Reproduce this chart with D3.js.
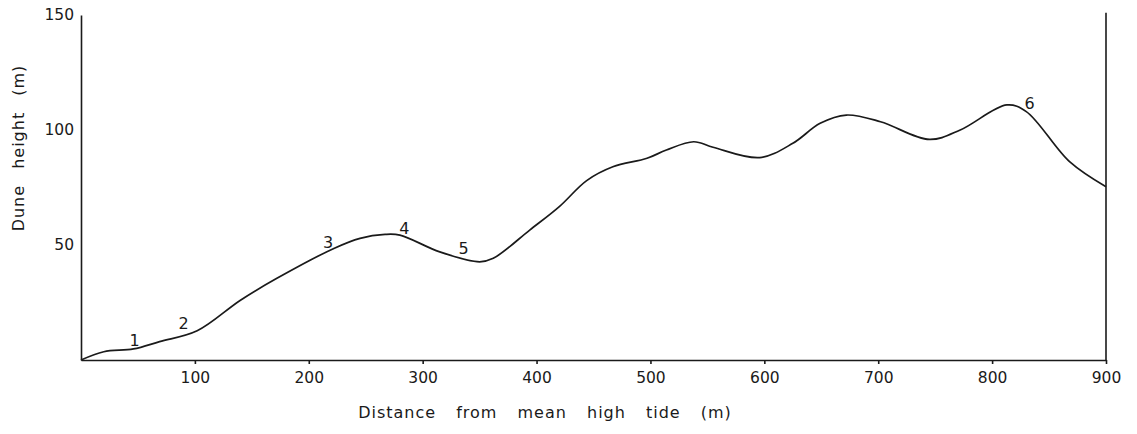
<!DOCTYPE html>
<html>
<head>
<meta charset="utf-8">
<script src="https://cdn.jsdelivr.net/npm/d3@7"></script>
<style>
  body { margin: 0; background: #fff; }
  text { font-family: "DejaVu Sans", sans-serif; fill: #1a1a1a; }
</style>
</head>
<body>
<div class="drawBoard"></div>
<script>
// profile (distance in m, height in m)
const distance = [0, 20, 46, 69, 102, 140, 172, 222, 245, 267, 280, 315, 350, 362, 394, 420, 444, 467, 497, 514, 538, 555, 596, 625, 649, 672, 702, 745, 772, 813, 830, 868, 900];
const height = [0, 3.6, 4.8, 8, 12.7, 26, 35.5, 48.5, 52.9, 54.6, 54.3, 47, 42.7, 44.2, 56.5, 66.7, 78, 84, 87.7, 91.3, 94.9, 92.5, 88, 94.2, 102.9, 106.5, 103.6, 95.9, 100, 110.9, 108, 86.2, 75.3];

// numbered sample points
const pointLabels = ['1', '2', '3', '4', '5', '6'];
const labelDist = [47, 90, 217, 284, 336, 833];
const labelHeight = [8.7, 15.7, 51.3, 57.4, 48.7, 111.7];

const xTicks = [100, 200, 300, 400, 500, 600, 700, 800, 900];
const yTicks = [50, 100, 150];

const drawingBoard = d3.select('.drawBoard');
const svg = drawingBoard.append('svg')
        .attr('width', 1137)
        .attr('height', 434);

const x = d3.scaleLinear().domain([0, 900]).range([81, 1106]);
const y = d3.scaleLinear().domain([0, 150]).range([360, 15]);

// bottom axis
const xAxis = svg.append('g')
        .attr('transform', 'translate(0,360)')
        .call(d3.axisBottom(x).tickValues(xTicks).tickSize(4).tickSizeOuter(0).tickPadding(8));
xAxis.select('.domain').attr('stroke', '#1a1a1a').attr('stroke-width', 1.6);
xAxis.selectAll('.tick line').attr('stroke', '#1a1a1a').attr('stroke-width', 1.6);
xAxis.selectAll('.tick text').attr('font-size', 15.5).attr('font-family', '"DejaVu Sans", sans-serif').attr('fill', '#1a1a1a');

// left axis
const yAxis = svg.append('g')
        .attr('transform', 'translate(81,0)')
        .call(d3.axisLeft(y).tickValues(yTicks).tickSize(0).tickPadding(7));
yAxis.select('.domain').attr('stroke', '#1a1a1a').attr('stroke-width', 1.6);
yAxis.selectAll('.tick text').attr('font-size', 15.5).attr('font-family', '"DejaVu Sans", sans-serif').attr('fill', '#1a1a1a');

// right border
svg.append('line')
        .attr('x1', x(900))
        .attr('x2', x(900))
        .attr('y1', y(151))
        .attr('y2', y(0))
        .attr('stroke', '#1a1a1a')
        .attr('stroke-width', 1.6);

// dune profile
const line = d3.line()
        .x((d, i) => x(distance[i]))
        .y((d, i) => y(height[i]))
        .curve(d3.curveCatmullRom.alpha(0.5));

svg.append('path')
        .datum(height)
        .attr('d', line)
        .attr('fill', 'none')
        .attr('stroke', '#1a1a1a')
        .attr('stroke-width', 1.7);

// point numbers
svg.selectAll('.ptlabel')
        .data(pointLabels)
        .enter()
        .append('text')
        .attr('class', 'ptlabel')
        .text(d => d)
        .attr('x', (d, i) => x(labelDist[i]))
        .attr('y', (d, i) => y(labelHeight[i]))
        .attr('dy', '0.35em')
        .attr('text-anchor', 'middle')
        .attr('font-size', 16);

// axis titles
svg.append('text')
        .text('Distance from mean high tide (m)')
        .attr('x', 545)
        .attr('y', 418)
        .attr('text-anchor', 'middle')
        .attr('font-size', 16)
        .attr('letter-spacing', 1)
        .attr('word-spacing', 14);

svg.append('text')
        .text('Dune height (m)')
        .attr('transform', 'translate(24,148) rotate(-90)')
        .attr('text-anchor', 'middle')
        .attr('font-size', 16)
        .attr('letter-spacing', 1)
        .attr('word-spacing', 10);
</script>
</body>
</html>
